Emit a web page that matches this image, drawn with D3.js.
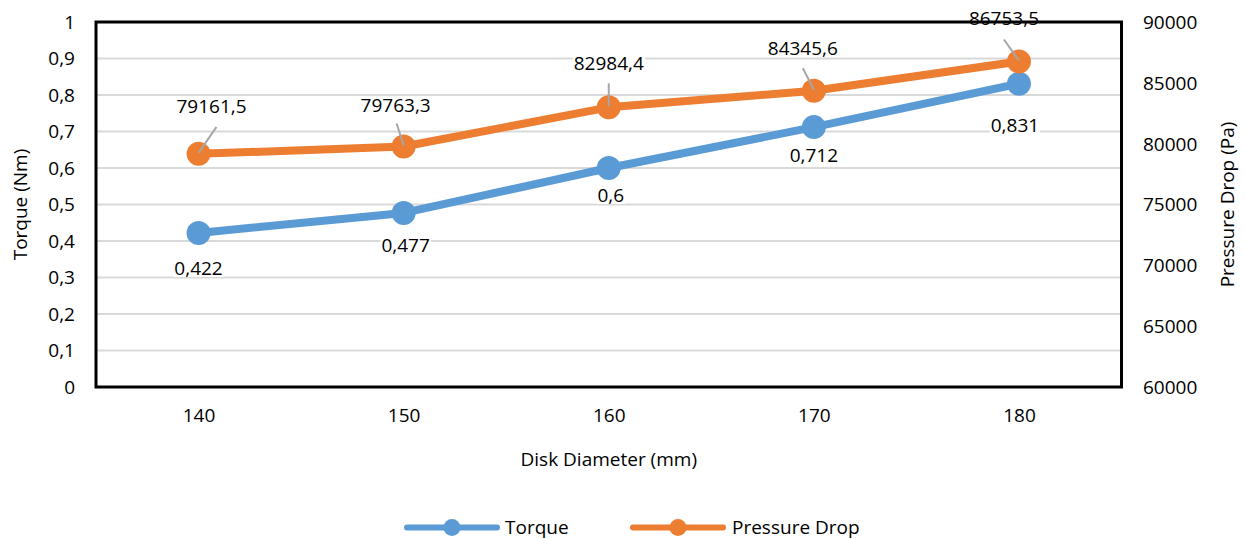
<!DOCTYPE html>
<html>
<head>
<meta charset="utf-8">
<script src="https://cdn.jsdelivr.net/npm/d3@7/dist/d3.min.js"></script>
<style>
  html, body { margin: 0; padding: 0; background: #fff; }
  svg { display: block; font-family: "Open Sans", "Noto Sans", sans-serif; }
</style>
</head>
<body>
<svg id="chart" width="1245" height="539"></svg>
<script>
// ---- data ----
const categories = [140, 150, 160, 170, 180];
const torque = [0.422, 0.477, 0.6, 0.712, 0.831];
const pressureDrop = [79161.5, 79763.3, 82984.4, 84345.6, 86753.5];
const torqueTicks = [0, 0.1, 0.2, 0.3, 0.4, 0.5, 0.6, 0.7, 0.8, 0.9, 1];
const pressureTicks = [60000, 65000, 70000, 75000, 80000, 85000, 90000];
const seriesNames = ["Torque", "Pressure Drop"];
const xTitle = "Disk Diameter (mm)";
const yLeftTitle = "Torque (Nm)";
const yRightTitle = "Pressure Drop (Pa)";

// ---- layout (label placement offsets, px) ----
const torqueLabelOffsets = [[0, 36], [2, 33], [2, 28], [0, 28], [-4, 42]];
const pressureLabelOffsets = [[13, -47], [-8, -41.5], [0, -44], [-11, -42], [-15, -42.5]];
const pressureLeaderEnds = [[18, -27], [-7, -23], [0, -24], [-11, -22.5], [-15, -22]];

const colors = { torque: "#5B9BD5", pressure: "#ED7D31", grid: "#d9d9d9", leader: "#a6a6a6" };
const fs = 19;

const plot = { left: 96, right: 1121.5, top: 22, bottom: 387 };
const svg = d3.select("#chart");

const x = d3.scalePoint().domain(categories).range([plot.left, plot.right]).padding(0.5);
const yL = d3.scaleLinear().domain([0, 1]).range([plot.bottom, plot.top]);
const yR = d3.scaleLinear().domain([60000, 90000]).range([plot.bottom, plot.top]);

const fmtComma = v => String(+v.toFixed(3)).replace(".", ",");

// gridlines
svg.append("g").selectAll("line").data(torqueTicks.slice(1, -1)).join("line")
  .attr("x1", plot.left).attr("x2", plot.right)
  .attr("y1", d => yL(d)).attr("y2", d => yL(d))
  .attr("stroke", colors.grid).attr("stroke-width", 2);

// left axis
const axL = d3.axisLeft(yL).tickValues(torqueTicks).tickFormat(fmtComma).tickSize(0).tickPadding(0);
const gL = svg.append("g").attr("transform", `translate(${plot.left - 21},0)`).call(axL);
gL.select(".domain").remove();
gL.selectAll("text").attr("font-size", fs).attr("font-family", "Open Sans").attr("fill", "#000").attr("dy", "0.34em");

// right axis
const axR = d3.axisRight(yR).tickValues(pressureTicks).tickFormat(d3.format("d")).tickSize(0).tickPadding(0);
const gR = svg.append("g").attr("transform", `translate(${plot.right + 21.5},0)`).call(axR);
gR.select(".domain").remove();
gR.selectAll("text").attr("font-size", fs).attr("font-family", "Open Sans").attr("fill", "#000").attr("dy", "0.34em");

// bottom axis
const axB = d3.axisBottom(x).tickSize(0).tickPadding(0);
const gB = svg.append("g").attr("transform", `translate(0,${plot.bottom + 29})`).call(axB);
gB.select(".domain").remove();
gB.selectAll("text").attr("font-size", fs).attr("font-family", "Open Sans").attr("fill", "#000").attr("dy", "0.34em");

// axis titles
svg.append("text").attr("x", (plot.left + plot.right) / 2).attr("y", 460).attr("dy", "0.34em")
  .attr("text-anchor", "middle").attr("font-size", fs).text(xTitle);
svg.append("text").attr("transform", `translate(21,${(plot.top + plot.bottom) / 2}) rotate(-90)`)
  .attr("dy", "0.34em").attr("text-anchor", "middle").attr("font-size", fs).text(yLeftTitle);
svg.append("text").attr("transform", `translate(1228,${(plot.top + plot.bottom) / 2}) rotate(-90)`)
  .attr("dy", "0.34em").attr("text-anchor", "middle").attr("font-size", fs).text(yRightTitle);

// series
const tData = categories.map((c, i) => ({ c, v: torque[i], i }));
const pData = categories.map((c, i) => ({ c, v: pressureDrop[i], i }));

const lineT = d3.line().x(d => x(d.c)).y(d => yL(d.v));
const lineP = d3.line().x(d => x(d.c)).y(d => yR(d.v));

svg.append("path").datum(tData).attr("d", lineT).attr("fill", "none")
  .attr("stroke", colors.torque).attr("stroke-width", 8).attr("stroke-linejoin", "round");
svg.append("g").selectAll("circle").data(tData).join("circle")
  .attr("cx", d => x(d.c)).attr("cy", d => yL(d.v)).attr("r", 12).attr("fill", colors.torque);

svg.append("path").datum(pData).attr("d", lineP).attr("fill", "none")
  .attr("stroke", colors.pressure).attr("stroke-width", 8).attr("stroke-linejoin", "round");
svg.append("g").selectAll("circle").data(pData).join("circle")
  .attr("cx", d => x(d.c)).attr("cy", d => yR(d.v)).attr("r", 12).attr("fill", colors.pressure);

// leader lines
svg.append("g").selectAll("line").data(pData).join("line")
  .attr("x1", d => x(d.c)).attr("y1", d => yR(d.v) - 1)
  .attr("x2", d => x(d.c) + pressureLeaderEnds[d.i][0])
  .attr("y2", d => yR(d.v) + pressureLeaderEnds[d.i][1])
  .attr("stroke", colors.leader).attr("stroke-width", 2);

// data labels with white background
function addLabels(data, yScale, offsets, fmt) {
  const g = svg.append("g");
  data.forEach(d => {
    const lx = x(d.c) + offsets[d.i][0];
    const ly = yScale(d.v) + offsets[d.i][1];
    const lg = g.append("g");
    const t = lg.append("text").attr("x", lx).attr("y", ly).attr("dy", "0.34em")
      .attr("text-anchor", "middle").attr("font-size", fs).attr("fill", "#000").text(fmt(d.v));
    const bb = t.node().getBBox();
    lg.insert("rect", "text").attr("x", bb.x - 1).attr("y", ly - 8).attr("width", bb.width + 2)
      .attr("height", 16).attr("fill", "#fff");
  });
}
addLabels(tData, yL, torqueLabelOffsets, fmtComma);
addLabels(pData, yR, pressureLabelOffsets, v => String(v).replace(".", ","));

// plot border
svg.append("rect").attr("x", plot.left).attr("y", plot.top)
  .attr("width", plot.right - plot.left).attr("height", plot.bottom - plot.top)
  .attr("fill", "none").attr("stroke", "#000").attr("stroke-width", 3);

// legend
const legend = [
  { name: seriesNames[0], color: colors.torque, x1: 407, x2: 497, tx: 505 },
  { name: seriesNames[1], color: colors.pressure, x1: 633, x2: 723, tx: 732 }
];
const ly = 527.5;
const lg = svg.append("g").selectAll("g").data(legend).join("g");
lg.append("line").attr("x1", d => d.x1).attr("x2", d => d.x2).attr("y1", ly).attr("y2", ly)
  .attr("stroke", d => d.color).attr("stroke-width", 6).attr("stroke-linecap", "round");
lg.append("circle").attr("cx", d => (d.x1 + d.x2) / 2).attr("cy", ly).attr("r", 8.5).attr("fill", d => d.color);
lg.append("text").attr("x", d => d.tx).attr("y", ly).attr("dy", "0.34em")
  .attr("font-size", fs).attr("fill", "#000").text(d => d.name);
</script>
</body>
</html>
